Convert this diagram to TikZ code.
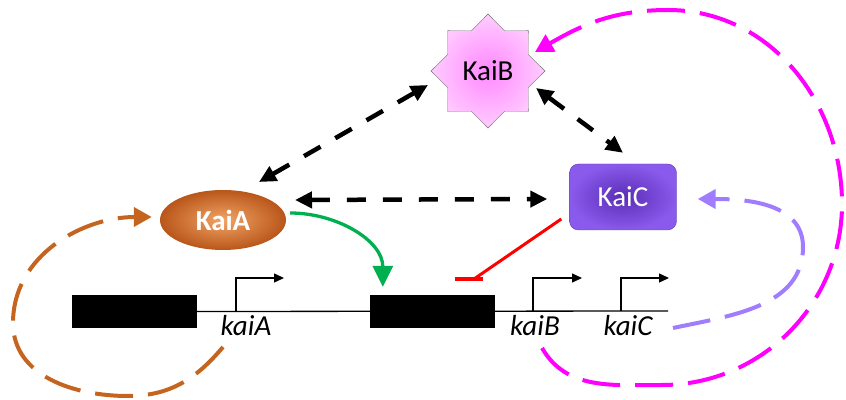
\documentclass[tikz,border=0pt]{standalone}
\usepackage{fontspec}
\setmainfont{Carlito}
\usetikzlibrary{shapes.geometric, arrows.meta}
\definecolor{kaiAdark}{HTML}{B9561A}
\definecolor{kaiAlight}{HTML}{F2A466}
\definecolor{kaiBmid}{HTML}{FF88FF}
\definecolor{kaiBedge}{HTML}{FFCCFF}
\definecolor{kaiCdark}{HTML}{5A2DB5}
\definecolor{kaiCedge}{HTML}{8A5AEC}
\definecolor{loopA}{HTML}{C5641E}
\definecolor{loopB}{HTML}{FF00FF}
\definecolor{loopC}{HTML}{A07CFF}
\definecolor{act}{HTML}{00B050}
\begin{document}
\begin{tikzpicture}[x=1pt, y=1pt,
  prot/.style={font=\fontsize{29}{32}\selectfont, inner sep=0pt},
  lbl/.style={font=\fontsize{29}{32}\selectfont\itshape, inner sep=0pt},
  gene/.style={fill=black, minimum width=125pt, minimum height=33pt, inner sep=0pt},
  bind/.style={line width=4.5pt, dash pattern=on 19pt off 17pt,
    {Triangle[length=17pt,width=16pt]}-{Triangle[length=17pt,width=16pt]}},
  fback/.style={line width=4pt, dash pattern=on 38pt off 15pt, -{Triangle[length=18pt,width=19pt]}},
  prom/.style={line width=1.3pt, -{Triangle[length=10pt,width=9pt]}}]
\useasboundingbox (0,0) rectangle (846,399);
%
\node[star, star points=8, star point ratio=1.31, minimum size=114pt, draw=gray!90!black,
  inner color=kaiBmid, outer color=kaiBedge, prot](B)at(488,328){KaiB};
\node[ellipse, minimum width=126pt, minimum height=60pt, inner color=kaiAlight,
  outer color=kaiAdark, text=white, prot, font=\fontsize{29}{32}\selectfont\bfseries](A)at(223,179){KaiA};
\node[rectangle, rounded corners=9pt, minimum width=107pt, minimum height=66pt, draw=kaiCedge!70!black,
  inner color=kaiCdark, outer color=kaiCedge, text=white, prot](C)at(623,202){KaiC};
%
\node[gene](GA)at(134.5,87.5){};
\node[gene](GB)at(432.5,87.5){};
\coordinate(E)at(668,88);
\draw[line width=1.3pt](GA.east)--(E);
\coordinate(PA)at(236,88);
\coordinate(PB)at(533,88);
\coordinate(PC)at(621,88);
\draw[prom](PA)|-++(48,33);
\draw[prom](PB)|-++(49,33);
\draw[prom](PC)|-++(48,33);
\node[lbl](LA)at(246,73){kaiA};
\node[lbl](LB)at(535,73){kaiB};
\node[lbl](LC)at(628,73){kaiC};
%
\draw[bind]([shift={(36,38)}]A.center)--([shift={(-60,-14)}]B.center);
\draw[bind]([shift={(72,20)}]A.center)--([shift={(-22,-2)}]C.west);
\draw[bind]([shift={(48,-17)}]B.center)--([yshift=11]C.north);
%
\draw[act, line width=3.3pt, -{Triangle[length=21pt,width=20pt]}]([shift={(4,7)}]A.east)to[out=0, in=90]([shift={(13,8)}]GB.north west);
\coordinate(R)at(469,120);
\draw[red, line width=3pt]([shift={(-8,-22)}]C.west)--([xshift=5]R);
\draw[red, line width=4pt]([xshift=-14]R)--([xshift=14]R);
%
\coordinate(OA)at(223,52);
\coordinate(OB)at(542,51);
\coordinate(OC)at(673,71);
\draw[fback, loopA](OA)to[out=-130, in=0](128,3)to[out=180, in=-90](13,76)to[out=90, in=180]([shift={(-8,3)}]A.west);
\draw[fback, loopC](OC)to[out=12, in=-90](803,152)to[out=90, in=0]([shift={(21,-2)}]C.east);
\draw[fback, loopB](OB)to[out=-60, in=180](662,14)to[out=0, in=-90](842,195)to[out=90, in=0](668,389)to[out=180, in=30]([shift={(47,19)}]B.center);
\end{tikzpicture}
\end{document}
